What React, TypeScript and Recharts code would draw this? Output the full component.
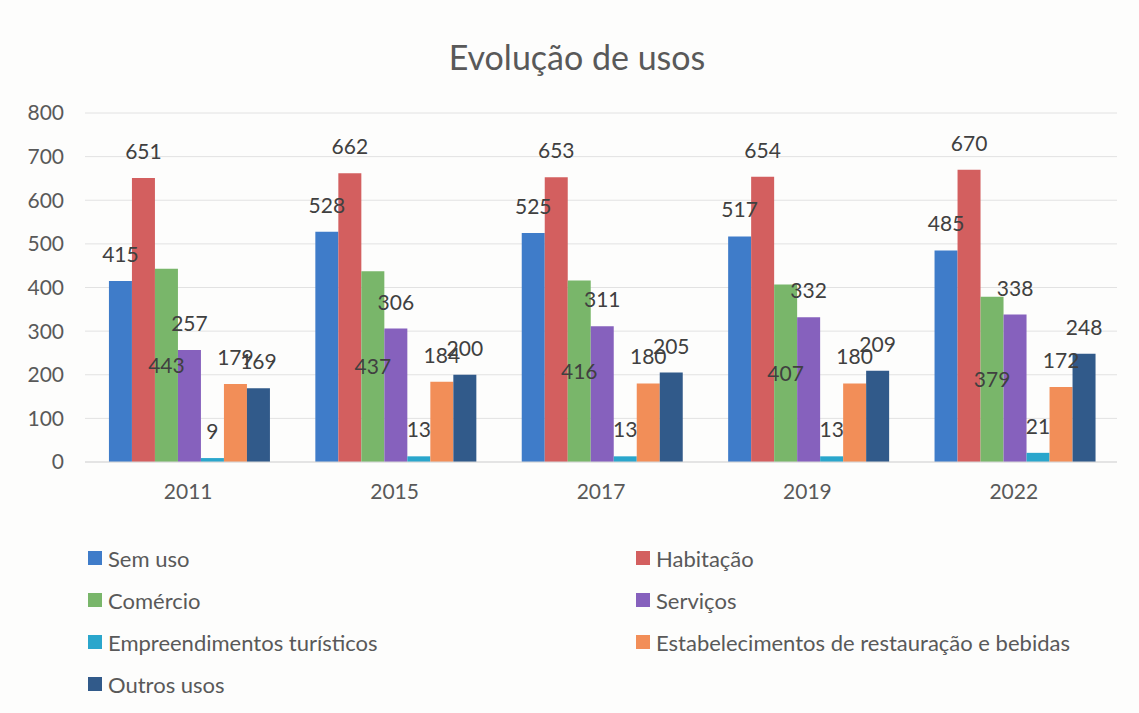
import { Bar, BarChart, CartesianGrid, LabelList, XAxis, YAxis } from "recharts";

const years = ["2011", "2015", "2017", "2019", "2022"];
const semUso = [415, 528, 525, 517, 485];
const habitacao = [651, 662, 653, 654, 670];
const comercio = [443, 437, 416, 407, 379];
const servicos = [257, 306, 311, 332, 338];
const empreendimentos = [9, 13, 13, 13, 21];
const estabelecimentos = [179, 184, 180, 180, 172];
const outros = [169, 200, 205, 209, 248];
const yTicks = [0, 100, 200, 300, 400, 500, 600, 700, 800];

const SERIES = [
  { key: "semUso", name: "Sem uso", values: semUso, color: "#3f7cc9", label: "top" },
  { key: "habitacao", name: "Habitação", values: habitacao, color: "#d35f5f", label: "top" },
  { key: "comercio", name: "Comércio", values: comercio, color: "#79b66a", label: "center" },
  { key: "servicos", name: "Serviços", values: servicos, color: "#8661bd", label: "top" },
  { key: "empreendimentos", name: "Empreendimentos turísticos", values: empreendimentos, color: "#2aa6cc", label: "top" },
  { key: "estabelecimentos", name: "Estabelecimentos de restauração e bebidas", values: estabelecimentos, color: "#f28e58", label: "top" },
  { key: "outros", name: "Outros usos", values: outros, color: "#315a8a", label: "top" },
];

const data = years.map((year, i) => {
  const row: Record<string, string | number> = { year };
  SERIES.forEach((s) => {
    row[s.key] = s.values[i];
  });
  return row;
});

const FONT = "Lato, 'Open Sans', sans-serif";
const TEXT = "#595959";

// legend in two columns, same order as the series
const legendLeft = [0, 2, 4, 6];
const legendRight = [1, 3, 5];

function LegendItem({ idx }: { idx: number }) {
  const s = SERIES[idx];
  return (
    <div style={{ display: "flex", alignItems: "center", height: 42 }}>
      <span style={{ width: 14, height: 14, background: s.color, marginRight: 6, display: "inline-block" }} />
      <span>{s.name}</span>
    </div>
  );
}

export default function App() {
  return (
    <div
      style={{
        position: "absolute",
        left: 0,
        top: 0,
        width: 1139,
        height: 713,
        background: "#fdfdfc",
        fontFamily: FONT,
        color: TEXT,
        overflow: "hidden",
      }}
    >
      <div style={{ position: "absolute", left: 0, width: 1154, top: 36, textAlign: "center", fontSize: 34 }}>
        Evolução de usos
      </div>
      <BarChart
        width={1139}
        height={713}
        data={data}
        margin={{ top: 113, right: 22, left: 6, bottom: 221 }}
        barCategoryGap="11.6%"
        barGap={0}
      >
        <CartesianGrid vertical={false} stroke="#e2e2e2" />
        <XAxis
          dataKey="year"
          height={30}
          tickLine={false}
          axisLine={{ stroke: "#d9d9d9" }}
          tickMargin={16}
          tick={{ fill: TEXT, fontSize: 21, fontFamily: FONT }}
        />
        <YAxis
          width={79}
          domain={[0, 800]}
          ticks={yTicks}
          axisLine={false}
          tickLine={false}
          tickMargin={15}
          tick={{ fill: TEXT, fontSize: 21, fontFamily: FONT }}
        />
        {SERIES.map((s) => (
          <Bar key={s.key} dataKey={s.key} name={s.name} fill={s.color} isAnimationActive={false}>
            <LabelList
              dataKey={s.key}
              position={s.label as "top" | "center"}
              offset={19}
              fill="#404040"
              fontSize={21}
              fontFamily={FONT}
            />
          </Bar>
        ))}
      </BarChart>
      <div style={{ position: "absolute", left: 88, top: 537, fontSize: 22 }}>
        {legendLeft.map((i) => (
          <LegendItem key={i} idx={i} />
        ))}
      </div>
      <div style={{ position: "absolute", left: 636, top: 537, fontSize: 22 }}>
        {legendRight.map((i) => (
          <LegendItem key={i} idx={i} />
        ))}
      </div>
    </div>
  );
}
